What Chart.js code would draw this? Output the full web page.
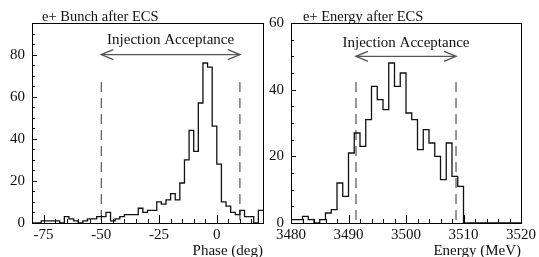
<!DOCTYPE html>
<html>
<head>
<meta charset="utf-8">
<script src="https://cdn.jsdelivr.net/npm/chart.js@4/dist/chart.umd.min.js"></script>
<style>
  html, body { margin: 0; padding: 0; background: #fff; }
  #wrap { position: relative; width: 539px; height: 257px; overflow: hidden; }
  canvas { position: absolute; top: 0; }
</style>
</head>
<body>
<div id="wrap">
  <canvas id="phaseChart" width="270" height="257" style="left:0"></canvas>
  <canvas id="energyChart" width="276" height="257" style="left:263px"></canvas>
</div>
<script>
/* ── Data ── */
const phaseStart  = -80;
const phaseStep   = 2;
const phaseCounts = [0, 0, 1, 1, 1, 1, 0, 3, 2, 1,
                     0, 1, 2, 2, 3, 3, 5, 1, 2, 3,
                     4, 4, 4, 7, 5, 6, 6, 10, 9, 11,
                     14, 11, 19, 30, 44, 34, 57, 76, 74, 46,
                     28, 10, 8, 5, 4, 6, 3, 3, 0, 6];
const phaseXTicks  = [-75, -50, -25, 0];
const phaseYTicks  = [0, 20, 40, 60, 80];
const phaseAccept  = [-50, 10];

const energyStart  = 3480;
const energyStep   = 1;
const energyCounts = [1, 1, 2, 1, 0, 1, 3, 4, 12, 8,
                      21, 27, 23, 31, 41, 37, 34, 48, 41, 45,
                      33, 31, 22, 28, 24, 20, 13, 24, 14, 11,
                      0, 0, 0, 0, 0, 0, 0, 0, 0, 0];
const energyXTicks = [3480, 3490, 3500, 3510, 3520];
const energyYTicks = [0, 20, 40, 60];
const energyAccept = [3491.3, 3508.7];

/* ── Style ── */
const SERIF    = "'Liberation Serif', 'DejaVu Serif', serif";
const INK      = '#111';
const DASH_COL = '#555';
const tickFont = { family: SERIF, size: 15 };

function histPoints(start, step, counts) {
  const pts = [];
  counts.forEach((c, i) => {
    pts.push({ x: start + i * step, y: c }, { x: start + (i + 1) * step, y: c });
  });
  return pts;
}

/* frame, inward ticks, arrow heads, labels */
function overlayPlugin(o) {
  return {
    id: 'overlay',
    afterDatasetsDraw(chart) {
      const { ctx, chartArea: a, scales: { x, y } } = chart;
      ctx.save();
      ctx.strokeStyle = '#000';
      ctx.lineWidth = 1;

      // ticks on x
      ctx.beginPath();
      for (let v = o.xMin; v <= o.xMax + 1e-6; v += o.xMinor) {
        const px = Math.round(x.getPixelForValue(v)) + 0.5;
        const major = o.xTicks.some(t => Math.abs(t - v) < 1e-6);
        ctx.moveTo(px, a.bottom);
        ctx.lineTo(px, a.bottom - (major ? 8 : 4));
      }
      // ticks on y
      for (let v = o.yMin; v <= o.yMax + 1e-6; v += o.yMinor) {
        const py = Math.round(y.getPixelForValue(v)) + 0.5;
        const major = o.yTicks.includes(v);
        ctx.moveTo(a.left, py);
        ctx.lineTo(a.left + (major ? 5 : 3), py);
      }
      ctx.stroke();

      // frame
      ctx.strokeRect(Math.round(a.left) + 0.5, Math.round(a.top) + 0.5,
                     Math.round(a.right - a.left), Math.round(a.bottom - a.top));

      // arrow heads
      const ay = y.getPixelForValue(o.arrowY);
      const x0 = x.getPixelForValue(o.accept[0]);
      const x1 = x.getPixelForValue(o.accept[1]);
      ctx.strokeStyle = DASH_COL;
      ctx.lineWidth = 1.4;
      ctx.beginPath();
      ctx.moveTo(x0 + 12, ay - 5); ctx.lineTo(x0, ay); ctx.lineTo(x0 + 12, ay + 5);
      ctx.moveTo(x1 - 12, ay - 5); ctx.lineTo(x1, ay); ctx.lineTo(x1 - 12, ay + 5);
      ctx.stroke();

      // texts
      ctx.fillStyle = INK;
      ctx.font = `15px ${SERIF}`;
      ctx.textAlign = 'center';
      ctx.textBaseline = 'alphabetic';
      ctx.fillText('Injection Acceptance', x.getPixelForValue(o.textX), y.getPixelForValue(o.textY));

      ctx.font = `14.5px ${SERIF}`;
      ctx.textAlign = 'left';
      ctx.fillText(o.title, a.left + o.titleDx, 20.5);
      ctx.restore();
    }
  };
}

function makeHist(id, o) {
  const dashLine = xv => [{ x: xv, y: o.dashTop }, { x: xv, y: 0 }];
  return new Chart(document.getElementById(id), {
    type: 'line',
    data: {
      datasets: [
        {
          data: histPoints(o.start, o.step, o.counts),
          borderColor: INK, borderWidth: 1.3, pointRadius: 0, tension: 0, fill: false
        },
        {
          data: dashLine(o.accept[0]),
          borderColor: DASH_COL, borderWidth: 1.2, borderDash: [10, 6], pointRadius: 0
        },
        {
          data: dashLine(o.accept[1]),
          borderColor: DASH_COL, borderWidth: 1.2, borderDash: [10, 6], pointRadius: 0
        },
        {
          data: [{ x: o.accept[0], y: o.arrowY }, { x: o.accept[1], y: o.arrowY }],
          borderColor: DASH_COL, borderWidth: 1.4, pointRadius: 0
        }
      ]
    },
    options: {
      responsive: false,
      animation: false,
      layout: { padding: o.padding },
      plugins: { legend: { display: false }, tooltip: { enabled: false }, title: { display: false } },
      scales: {
        x: {
          type: 'linear', min: o.xMin, max: o.xMax,
          afterBuildTicks: s => { s.ticks = o.xTicks.map(v => ({ value: v })); },
          afterFit: s => { s.height = 34; },
          grid: { display: false, drawTicks: false },
          border: { display: false },
          ticks: { color: INK, font: tickFont, padding: 3, maxRotation: 0, autoSkip: false, callback: v => String(v) },
          title: {
            display: true, text: o.xTitle, align: 'end', color: INK,
            font: { family: SERIF, size: 15 }, padding: { top: 0, bottom: -3 }
          }
        },
        y: {
          type: 'linear', min: o.yMin, max: o.yMax,
          afterBuildTicks: s => { s.ticks = o.yTicks.map(v => ({ value: v })); },
          afterFit: s => { s.width = o.yWidth; },
          grid: { display: false, drawTicks: false },
          border: { display: false },
          ticks: { color: INK, font: tickFont, padding: 7, callback: v => String(v) }
        }
      }
    },
    plugins: [overlayPlugin(o)]
  });
}

makeHist('phaseChart', {
  start: phaseStart, step: phaseStep, counts: phaseCounts,
  xMin: -80, xMax: 20, xMinor: 5, xTicks: phaseXTicks,
  yMin: 0, yMax: 95, yMinor: 5, yTicks: phaseYTicks,
  accept: phaseAccept, dashTop: 67, arrowY: 80, textX: -20, textY: 85,
  title: 'e+ Bunch after ECS', titleDx: 10, xTitle: 'Phase (deg)',
  yWidth: 32, padding: { top: 23, right: 7, left: 0, bottom: 0 }
});

makeHist('energyChart', {
  start: energyStart, step: energyStep, counts: energyCounts,
  xMin: 3480, xMax: 3520, xMinor: 2, xTicks: energyXTicks,
  yMin: 0, yMax: 60, yMinor: 5, yTicks: energyYTicks,
  accept: energyAccept, dashTop: 42.3, arrowY: 50, textX: 3500, textY: 52.8,
  title: 'e+ Energy after ECS', titleDx: 12, xTitle: 'Energy (MeV)',
  yWidth: 28, padding: { top: 23, right: 17, left: 0, bottom: 0 }
});
</script>
</body>
</html>
